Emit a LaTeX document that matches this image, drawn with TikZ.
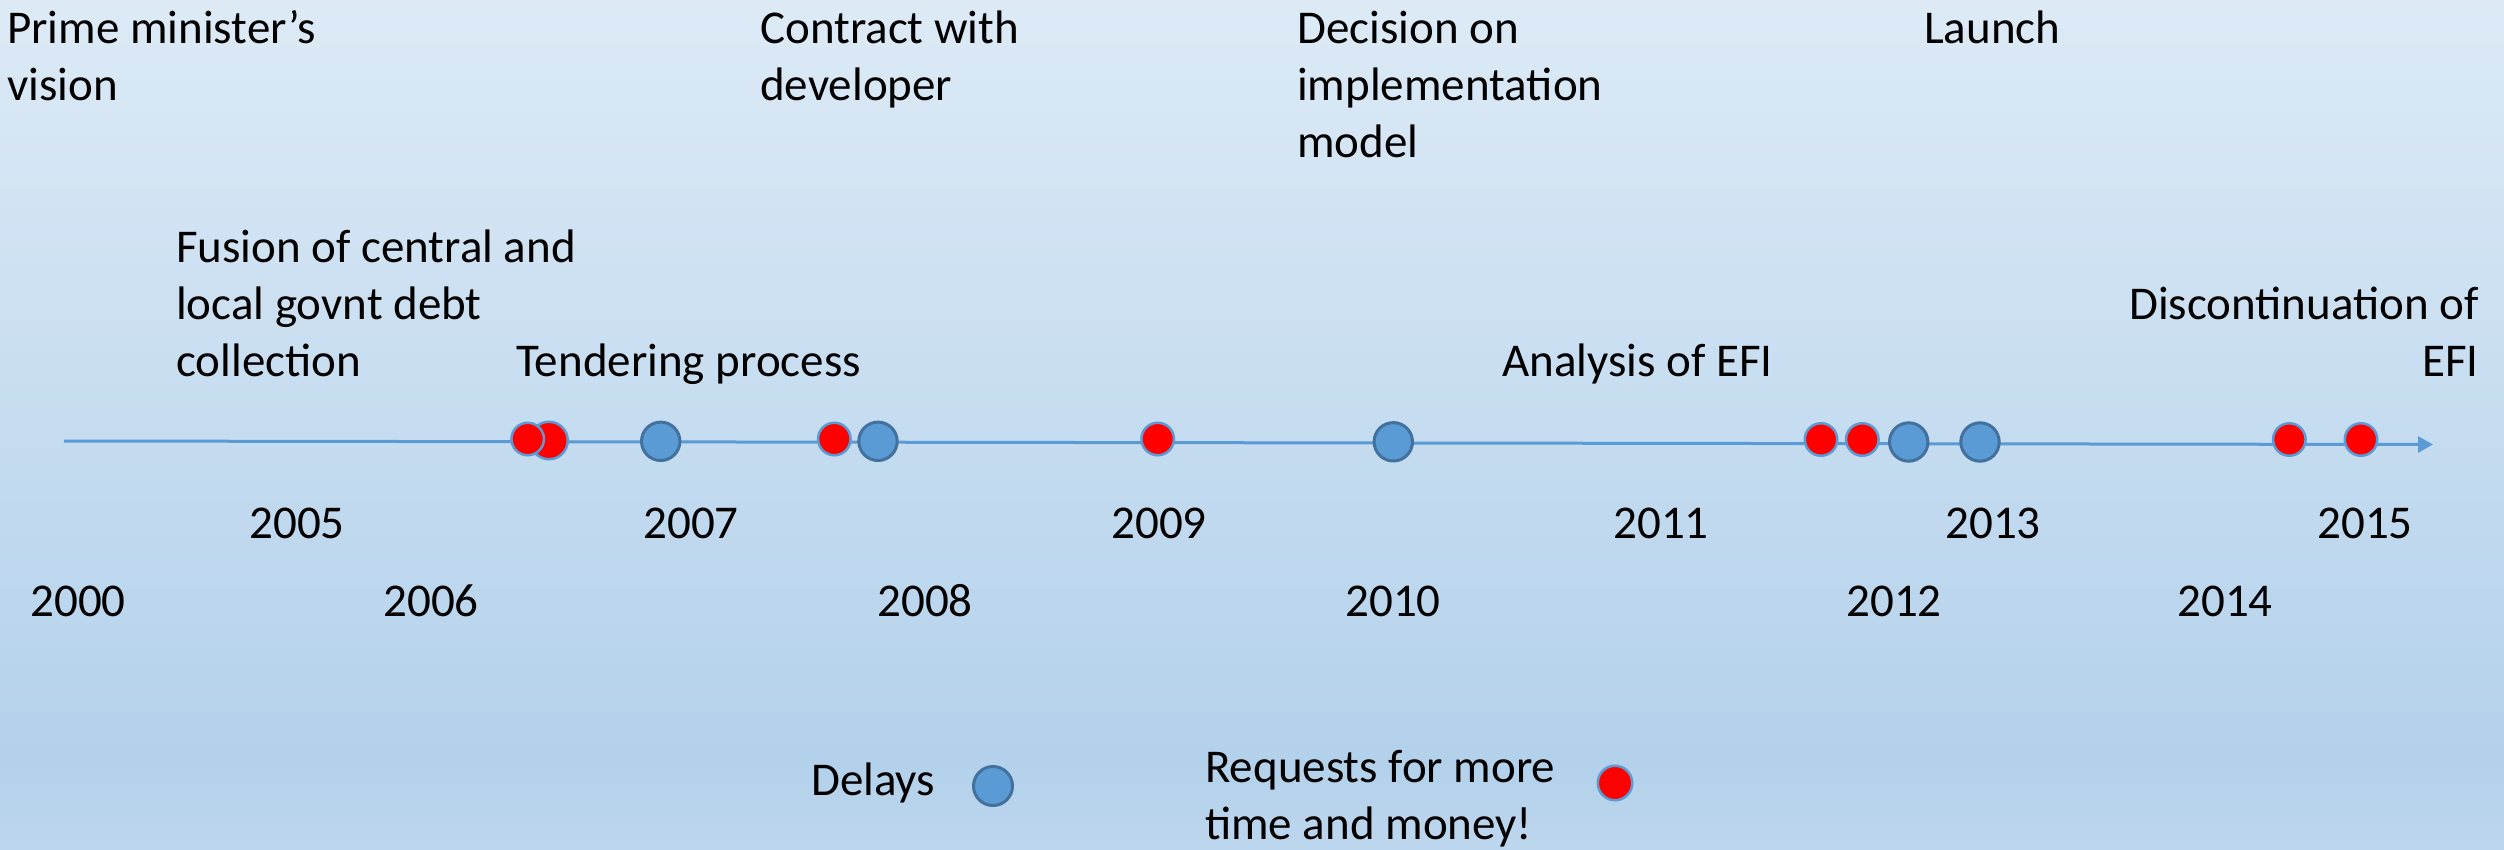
\documentclass[tikz,border=0pt]{standalone}
\usepackage{fontspec}
\setmainfont{Carlito}
\usetikzlibrary{arrows.meta}
\definecolor{axisblue}{RGB}{91,155,213}
\definecolor{delayedge}{RGB}{65,113,156}
\definecolor{bgtop}{RGB}{221,234,246}
\definecolor{bgmid}{RGB}{179,209,235}
\definecolor{bgbot}{RGB}{188,214,237}

\begin{document}
\begin{tikzpicture}[x=1pt,y=-1pt,
  lbl/.style={inner sep=0pt, font=\fontsize{47}{57}\selectfont, align=left, anchor=base west},
  yr/.style={inner sep=0pt, font=\fontsize{47}{57}\selectfont, anchor=base},
  req/.style={circle, inner sep=0pt, minimum size=32.5pt, fill=red, draw=axisblue, line width=2.5pt},
  dly/.style={circle, inner sep=0pt, minimum size=38.4pt, fill=axisblue, draw=delayedge, line width=3pt},
]
\useasboundingbox (0,0) rectangle (2504,849);
% background gradient
\shade[top color=bgtop, bottom color=bgmid] (0,0) rectangle (2504,760);
\shade[top color=bgmid, bottom color=bgbot] (0,760) rectangle (2504,849);

% milestone labels (each placed at the baseline of its last line)
\node[lbl] (pm)  at (7,100)   {Prime minister’s\\vision};
\node[lbl] (cd)  at (760,100) {Contract with\\developer};
\node[lbl] (dim) at (1297,157) {Decision on\\implementation\\model};
\node[lbl] (la)  at (1924,43) {Launch};
\node[lbl] (fu)  at (176,376) {Fusion of central and\\local govnt debt\\collection};
\node[lbl] (tp)  at (516,376) {Tendering process};
\node[lbl] (an)  at (1502,376) {Analysis of EFI};
\node[lbl, align=right, anchor=base east] (dc) at (2479,376) {Discontinuation of\\EFI};

% time axis
\coordinate (a0) at (64,441);
\coordinate (a1) at (2433,444.5);
\draw[axisblue, line width=3pt, -{Triangle[length=15pt,width=16pt]}] (a0) -- (a1);

% events on the axis
\node[req, minimum size=37.5pt] (r2) at (549,440.5) {};
\node[req] (r1) at (527.7,439) {};
\node[dly] (d1) at (660.7,441.3) {};
\node[req] (r3) at (834.3,439) {};
\node[dly] (d2) at (878,441.3) {};
\node[req] (r4) at (1157.7,439) {};
\node[dly] (d3) at (1393.3,441.8) {};
\node[req] (r5) at (1821,439.5) {};
\node[req] (r6) at (1862.3,439.5) {};
\node[dly] (d4) at (1908.7,442) {};
\node[dly] (d5) at (1980,442) {};
\node[req] (r7) at (2289.3,439.5) {};
\node[req] (r8) at (2361,439.5) {};

% years
\node[yr] (y2005) at (297,538)  {2005};
\node[yr] (y2007) at (691,538)  {2007};
\node[yr] (y2009) at (1159,538) {2009};
\node[yr] (y2011) at (1661,538) {2011};
\node[yr] (y2013) at (1993,538) {2013};
\node[yr] (y2015) at (2365,538) {2015};
\node[yr] (y2000) at (78,616)   {2000};
\node[yr] (y2006) at (431,616)  {2006};
\node[yr] (y2008) at (925,616)  {2008};
\node[yr] (y2010) at (1393,616) {2010};
\node[yr] (y2012) at (1894,616) {2012};
\node[yr] (y2014) at (2225,616) {2014};

% legend
\node[lbl] (ld) at (811,795) {Delays};
\node[dly, minimum size=39pt] (ldc) at (993,786) {};
\node[lbl] (lr) at (1205,839) {Requests for more\\time and money!};
\node[req, minimum size=34.5pt] (lrc) at (1615,783) {};
\end{tikzpicture}
\end{document}
